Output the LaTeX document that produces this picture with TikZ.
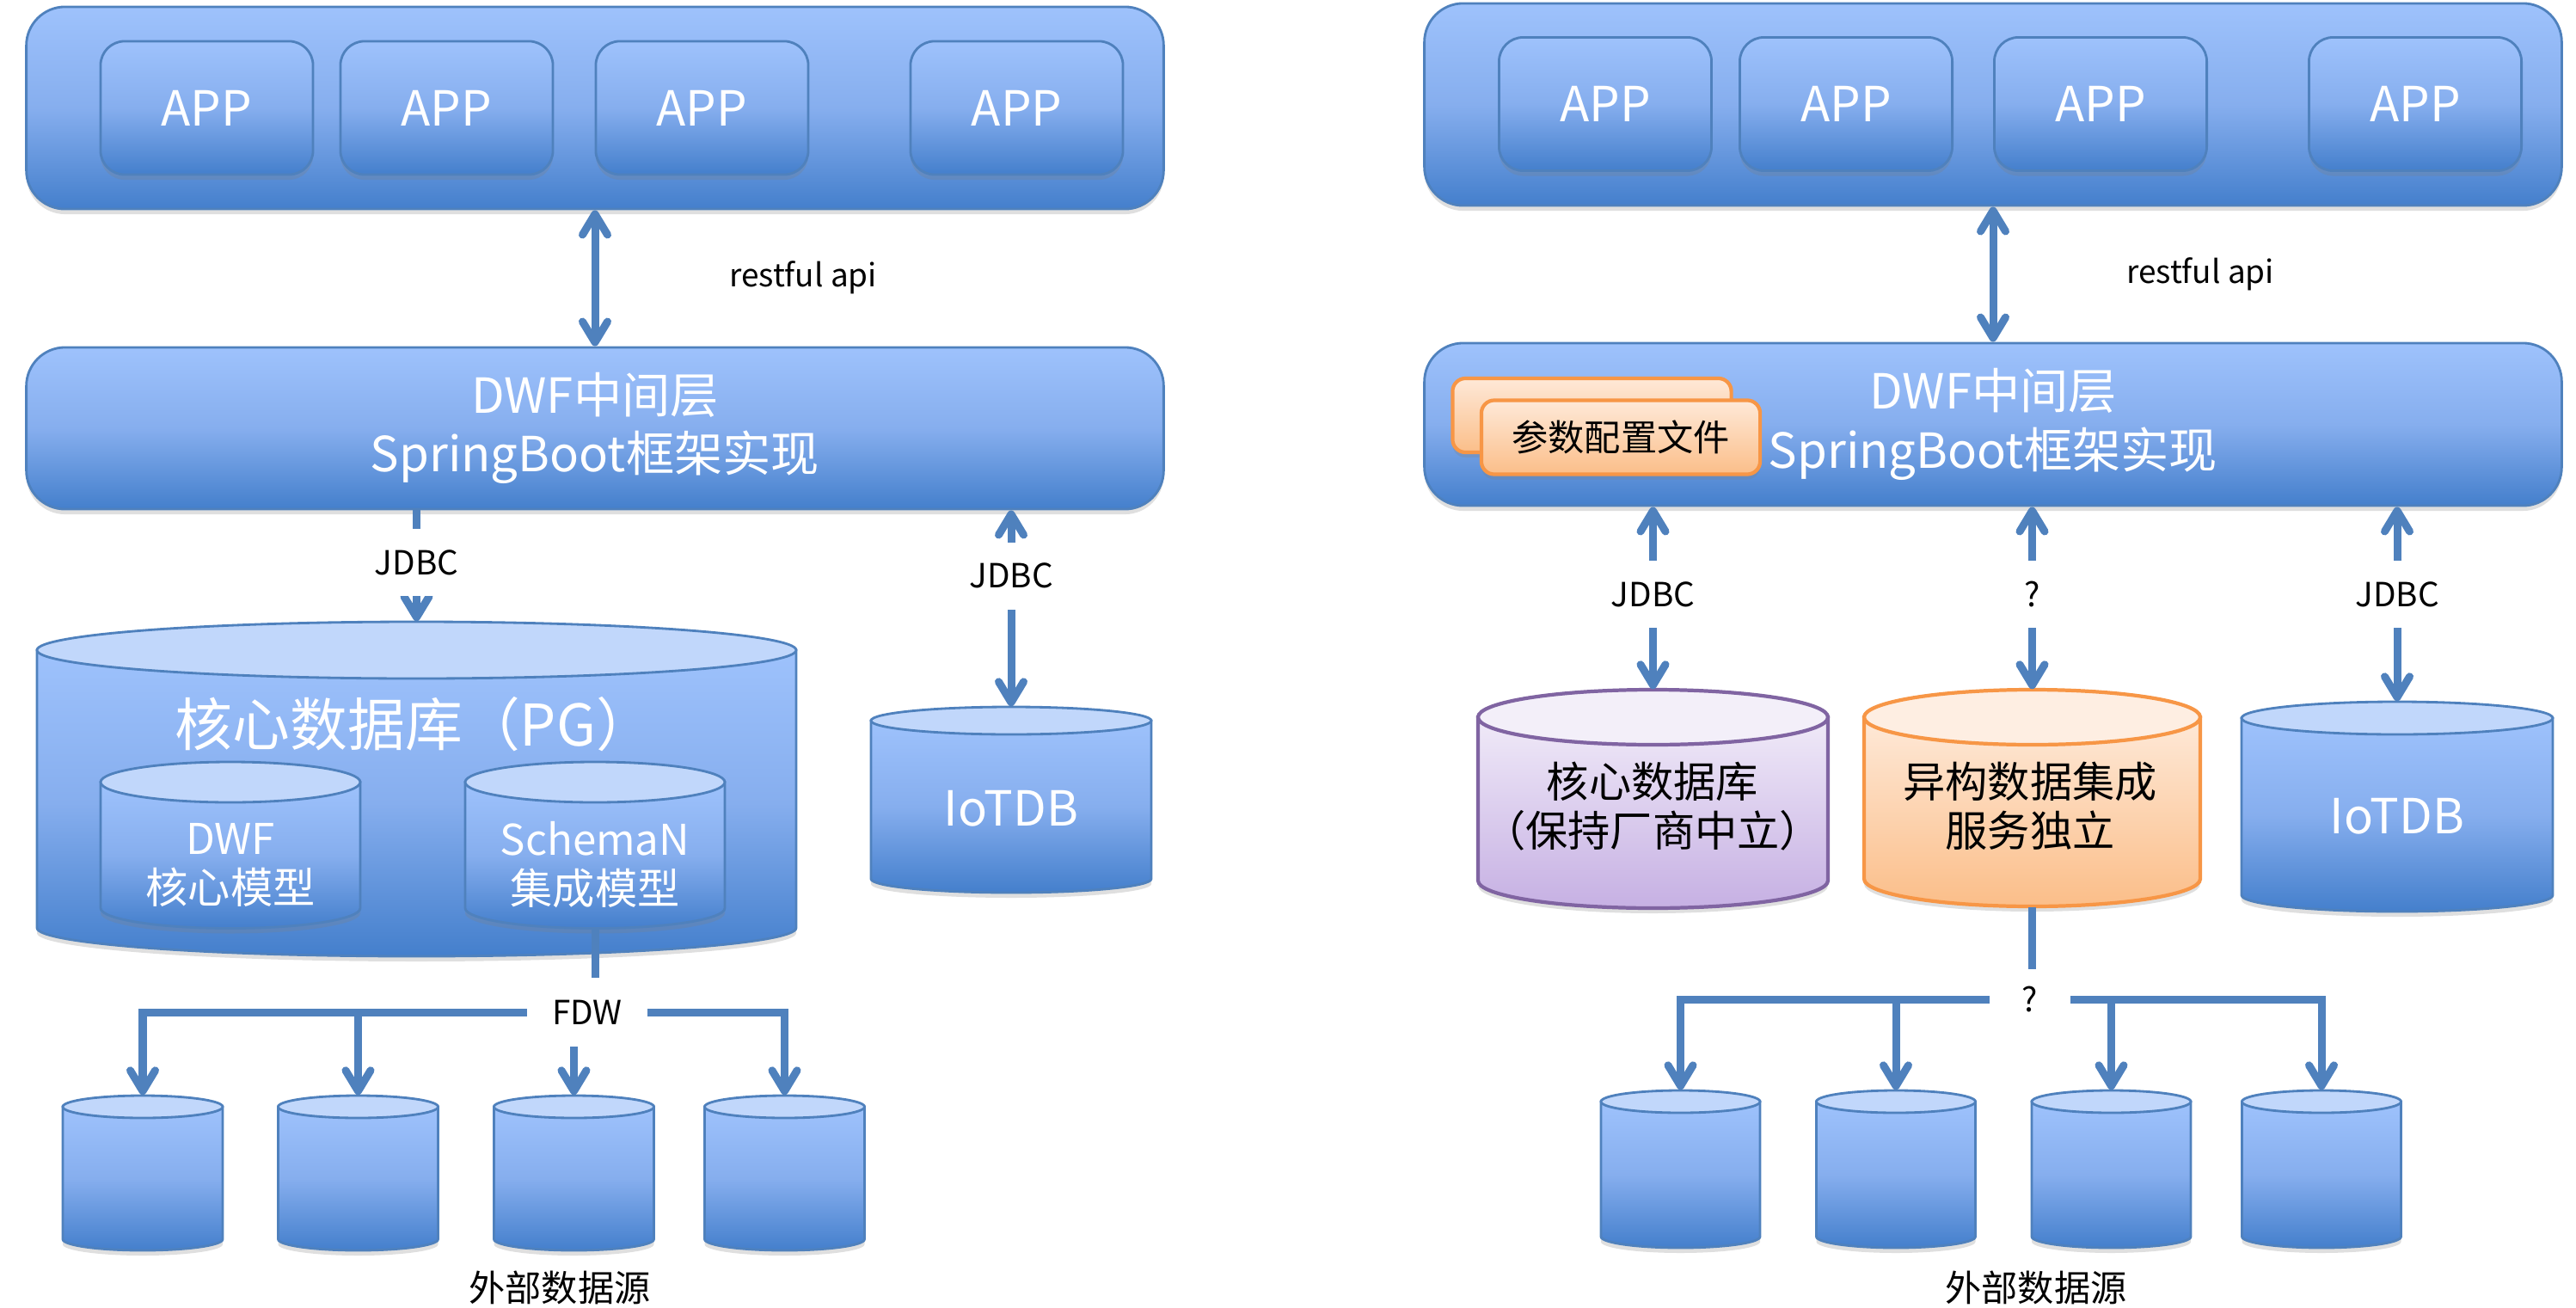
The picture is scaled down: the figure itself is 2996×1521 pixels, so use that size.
\documentclass[tikz,border=0pt]{standalone}
\usepackage{fontspec}
\setmainfont{Noto Sans CJK SC}
\usepackage{tikz}
\usetikzlibrary{calc,positioning,shapes,shadows,arrows.meta}

\definecolor{bluetop}{RGB}{158,194,252}
\definecolor{bluemid}{RGB}{134,174,238}
\definecolor{bluebot}{RGB}{68,127,204}
\definecolor{bluelid}{RGB}{193,215,251}
\definecolor{blueline}{RGB}{79,129,189}
\definecolor{purptop}{RGB}{240,234,248}
\definecolor{purpbot}{RGB}{198,176,227}
\definecolor{purplid}{RGB}{243,239,249}
\definecolor{purpline}{RGB}{128,100,162}
\definecolor{orgtop}{RGB}{254,233,216}
\definecolor{orgbot}{RGB}{251,190,137}
\definecolor{orglid}{RGB}{254,238,226}
\definecolor{orgline}{RGB}{247,150,70}

\tikzset{
    >={Straight Barb[length=2.4mm,width=2.9mm,round]},
    softshadow/.style={drop shadow={shadow xshift=0pt,shadow yshift=-0.06cm,opacity=0.25}},
    layer/.style={draw=blueline,line width=0.8pt,rounded corners=0.45cm,top color=bluetop,bottom color=bluebot,middle color=bluemid,softshadow,minimum width=13.22cm,text=white,align=center,font=\fontsize{16}{19.5}\selectfont},
    appbox/.style={draw=blueline,line width=0.8pt,rounded corners=0.28cm,top color=bluetop,bottom color=bluebot,middle color=bluemid,softshadow,minimum width=2.47cm,minimum height=1.55cm,text=white,font=\fontsize{16}{19}\selectfont},
    cfgbox/.style={draw=orgline,line width=1.2pt,rounded corners=0.15cm,top color=orgtop,bottom color=orgbot,softshadow,minimum width=3.24cm,minimum height=0.86cm,font=\fontsize{12}{14}\selectfont},
    blue body/.style={draw=blueline,line width=0.8pt,top color=bluetop,bottom color=bluebot,middle color=bluemid,softshadow},
    blue lid/.style={draw=blueline,line width=0.8pt,fill=bluelid},
    purple body/.style={draw=purpline,line width=1.2pt,top color=purptop,bottom color=purpbot,softshadow},
    purple lid/.style={draw=purpline,line width=1.2pt,fill=purplid},
    orange body/.style={draw=orgline,line width=1.2pt,top color=orgtop,bottom color=orgbot,softshadow},
    orange lid/.style={draw=orgline,line width=1.2pt,fill=orglid},
    link/.style={draw=blueline,line width=0.09cm},
    tag/.style={fill=white,inner xsep=3pt,minimum height=0.78cm,font=\fontsize{11}{13}\selectfont},
    wtext/.style={text=white,align=center},
    btext/.style={text=black,align=center},
}

% #2 name, #3 centre x, #4 lid y, #5 base y, #6 half width, #7 lid radius
\newcommand{\dbcyl}[7][blue]{%
    \path[#1 body] ({#3-#6},#4) -- ({#3-#6},#5) arc[start angle=180,end angle=360,x radius=#6,y radius=#7] -- ({#3+#6},#4) -- cycle;
    \path[#1 lid] (#3,#4) ellipse [x radius=#6,y radius=#7];
    \node[inner sep=0pt,minimum width={2*(#6)*0.01cm},minimum height={((#4)-(#5)+2*(#7))*0.01cm}] (#2) at (#3,{((#4)+(#5))/2}) {};
}

\begin{document}
\begin{tikzpicture}[x=0.01cm,y=0.01cm]
        \useasboundingbox (0,0) rectangle (2996,-1521);

        % left: PG with FDW
        \node[layer,minimum height=2.35cm] (topL) at (692,-125.5) {};
        \foreach \x [count=\i] in {240.5,519.5,816.5,1182.5}
            \node[appbox] (appL\i) at (\x,-125.5) {APP};
        \node[layer,minimum height=1.88cm] (midL) at (692,-498) {DWF中间层\\SpringBoot框架实现};
        \node[font=\fontsize{10.5}{12}\selectfont] (restL) at (934,-323) {restful api};

        \dbcyl{pg}{484.5}{-756}{-1079}{441.5}{33}
        \node[wtext,font=\fontsize{19}{22}\selectfont] (pgtext) at (482,-842) {核心数据库（PG）};
        \dbcyl{dwf}{268}{-909.5}{-1056}{151}{23.5}
        \node[wtext,font=\fontsize{14}{16.2}\selectfont] (dwftext) at (268,-1006) {DWF\\核心模型};
        \dbcyl{schema}{692}{-909.5}{-1056}{151}{23.5}
        \node[wtext,font=\fontsize{14}{16.2}\selectfont] (schematext) at (692,-1006) {SchemaN\\集成模型};

        \dbcyl{iotL}{1176}{-838}{-1022}{163}{16}
        \node[wtext,font=\fontsize{16}{19}\selectfont] (iotLtext) at (1176,-940) {IoTDB};

        \foreach \x [count=\i] in {166,416.5,667.5,912.5}
            {\dbcyl{extL\i}{\x}{-1287}{-1441}{93}{13}}
        \node[font=\fontsize{12}{14}\selectfont] (srcL) at (651,-1497) {外部数据源};

        \draw[link,<->] (topL.south) -- (midL.north);
        \draw[link,->] (midL.south -| pg.north) -- node[tag,pos=0.47] (jdbcL1) {JDBC} (pg.north);
        \draw[link,<->] (midL.south -| iotL.north) -- node[tag,pos=0.335] (jdbcL2) {JDBC} (iotL.north);

        \coordinate (busL) at (683,-1177);
        \draw[link] (schema.south) -- (schema.south |- busL);
        \draw[link,->] (busL) -- (extL1 |- busL) -- (extL1.north);
        \draw[link,->] (busL) -- (extL4 |- busL) -- (extL4.north);
        \draw[link,->] (extL2 |- busL) -- (extL2.north);
        \draw[link,->] (extL3 |- busL) -- (extL3.north);
        \node[tag,minimum width=1.39cm,minimum height=0.79cm] (fdw) at (busL) {FDW};

        % right: independent integration service
        \node[layer,minimum height=2.35cm] (topR) at (2318,-121.5) {};
        \foreach \x [count=\i] in {1867,2147,2443,2809}
            \node[appbox] (appR\i) at (\x,-121) {APP};
        \node[layer,minimum height=1.89cm] (midR) at (2318,-493.5) {DWF中间层\\SpringBoot框架实现};
        \node[cfgbox] (cfgback) at (1851.5,-483) {};
        \node[cfgbox] (cfg) at (1885,-508.5) {参数配置文件};
        \node[font=\fontsize{10.5}{12}\selectfont] (restR) at (2559,-319) {restful api};

        \dbcyl[purple]{core}{1922.5}{-834}{-1024}{203.5}{32}
        \node[btext,font=\fontsize{14}{16.2}\selectfont] (coretext) at (1922,-937.5) {核心数据库\\（保持厂商中立）};
        \dbcyl[orange]{hub}{2363.5}{-834}{-1022}{195.5}{32}
        \node[btext,font=\fontsize{14}{16.2}\selectfont] (hubtext) at (2361,-937.5) {异构数据集成\\服务独立};
        \dbcyl{iotR}{2788}{-835}{-1041}{181}{19}
        \node[wtext,font=\fontsize{16}{19}\selectfont] (iotRtext) at (2788,-949) {IoTDB};

        \foreach \x [count=\i] in {1954.5,2205,2455.5,2700}
            {\dbcyl{extR\i}{\x}{-1281}{-1438}{92.5}{13}}
        \node[font=\fontsize{12}{14}\selectfont] (srcR) at (2368,-1497) {外部数据源};

        \draw[link,<->] (topR.south) -- (midR.north);
        \draw[link,<->] (midR.south -| core.north) -- node[tag,pos=0.48] (jdbcR1) {JDBC} (core.north);
        \draw[link,<->] (midR.south -| hub.north) -- node[tag,pos=0.48] (askR1) {?} (hub.north);
        \draw[link,<->] (midR.south -| iotR.north) -- node[tag,pos=0.45] (jdbcR2) {JDBC} (iotR.north);

        \coordinate (busR) at (2361,-1162);
        \draw[link] (hub.south) -- (hub.south |- busR);
        \draw[link,->] (busR) -- (extR1 |- busR) -- (extR1.north);
        \draw[link,->] (busR) -- (extR4 |- busR) -- (extR4.north);
        \draw[link,->] (extR2 |- busR) -- (extR2.north);
        \draw[link,->] (extR3 |- busR) -- (extR3.north);
        \node[tag,minimum width=0.94cm,minimum height=0.7cm] (askR2) at (busR) {?};
\end{tikzpicture}
\end{document}
